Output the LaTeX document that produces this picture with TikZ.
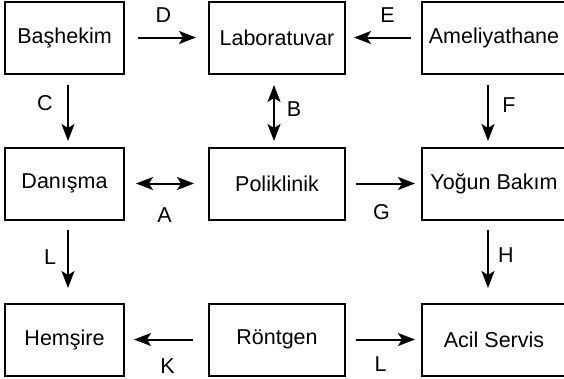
\documentclass[tikz,border=0pt]{standalone}
\usepackage{fontspec}
\setmainfont{Liberation Sans}
\usetikzlibrary{positioning, arrows.meta}

\begin{document}
\begin{tikzpicture}[node distance=72pt,
                    unit/.style={draw, line width=2pt, minimum height=72pt, inner sep=0pt, font=\fontsize{21.5}{25}\selectfont},
                    link/.style={line width=2pt, -{Stealth[length=17pt, width=13pt, inset=4pt]}},
                    both/.style={line width=2pt, {Stealth[length=17pt, width=13pt, inset=4pt]}-{Stealth[length=17pt, width=13pt, inset=4pt]}},
                    tag/.style={font=\fontsize{21.5}{25}\selectfont, inner sep=0pt}]
                    \useasboundingbox (-64.5pt,37.5pt) rectangle (499.5pt,-340.5pt);
                    \node (bas) [unit, minimum width=119pt] {Başhekim};
                    \node (lab) [unit, minimum width=136pt, right=83pt of bas] {Laboratuvar};
                    \node (ame) [unit, minimum width=144pt, right=75pt of lab] {Ameliyathane};
                    \node (dan) [unit, minimum width=119pt, below=72pt of bas] {Danışma};
                    \node (pol) [unit, minimum width=136pt, right=83pt of dan] {Poliklinik};
                    \node (yog) [unit, minimum width=144pt, right=75pt of pol] {Yoğun Bakım};
                    \node (hem) [unit, minimum width=119pt, below=82pt of dan] {Hemşire};
                    \node (ron) [unit, minimum width=136pt, right=83pt of hem] {Röntgen};
                    \node (acil) [unit, minimum width=144pt, right=75pt of ron] {Acil Servis};
                    % top row
                    \draw[link, shorten <=13pt, shorten >=12pt] (bas) -- node[tag, xshift=-3pt, yshift=22pt] {D} (lab);
                    \draw[link, shorten <=10pt, shorten >=8pt] (ame) -- node[tag, xshift=4pt, yshift=22pt] {E} (lab);
                    % down from top row
                    \draw[link, shorten <=10pt, shorten >=5.5pt] ([xshift=3.5pt]bas.south) -- node[tag, xshift=-23pt, yshift=7pt] {C} ([xshift=3.5pt]dan.north);
                    \draw[both, shorten <=10.5pt, shorten >=5.5pt] ([xshift=-3pt]lab.south) -- node[tag, xshift=20pt, yshift=1pt] {B} ([xshift=-3pt]pol.north);
                    \draw[link, shorten <=10.5pt, shorten >=5.5pt] ([xshift=-6pt]ame.south) -- node[tag, xshift=21pt, yshift=5pt] {F} ([xshift=-6pt]yog.north);
                    % middle row
                    \draw[both, shorten <=11pt, shorten >=14pt] (dan) -- node[tag, xshift=-2pt, yshift=-32pt] {A} (pol);
                    \draw[link, shorten <=10pt, shorten >=6pt] (pol) -- node[tag, xshift=-2pt, yshift=-29pt] {G} (yog);
                    % down from middle row
                    \draw[link, shorten <=9.5pt, shorten >=14.5pt] ([xshift=3.5pt]dan.south) -- node[tag, xshift=-18pt, yshift=4pt] {L} ([xshift=3.5pt]hem.north);
                    \draw[link, shorten <=9.5pt, shorten >=14.5pt] ([xshift=-6pt]yog.south) -- node[tag, xshift=18pt, yshift=6pt] {H} ([xshift=-6pt]acil.north);
                    % bottom row
                    \draw[link, shorten <=15pt, shorten >=9pt] (ron) -- node[tag, xshift=1pt, yshift=-27pt] {K} (hem);
                    \draw[link, shorten <=10pt, shorten >=6pt] (ron) -- node[tag, xshift=-3pt, yshift=-25pt] {L} (acil);
                \end{tikzpicture}
\end{document}
